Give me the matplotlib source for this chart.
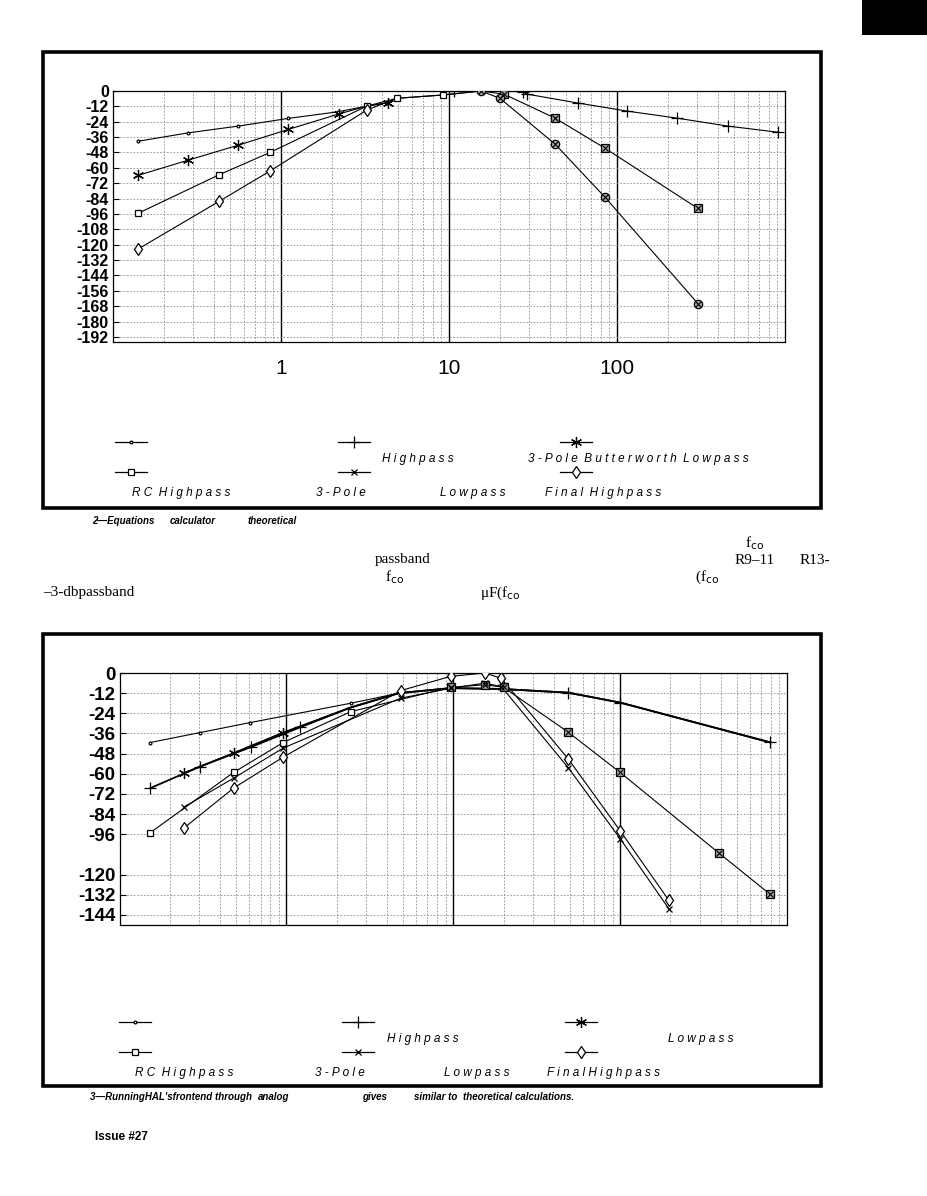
import matplotlib
matplotlib.use("Agg")
import matplotlib.pyplot as plt
from matplotlib.lines import Line2D
from matplotlib.patches import Rectangle
from matplotlib.ticker import LogLocator, NullFormatter, FixedLocator, FixedFormatter

W, H = 927, 1196

# ===== Figure 2 (theoretical) =====
t_f_dot = [0.1416, 0.28, 0.557, 1.105, 2.19, 3.24, 4.26]
t_db_dot = [-39.2, -32.7, -27.4, -21.4, -16.2, -11.8, -9.2]
t_f_star = [0.1416, 0.28, 0.557, 1.105, 2.2, 3.24, 4.36]
t_db_star = [-65.8, -54, -42.3, -30, -18, -11.8, -9.2]
t_f_sq = [0.1416, 0.43, 0.86, 3.24, 4.89, 9.25, 15.5, 21.2, 42.8, 84.9, 303]
t_db_sq = [-95.4, -65.3, -48, -11.8, -5.7, -3.1, 0, -2.4, -21.2, -44.7, -91.7]
t_f_dia = [0.1416, 0.43, 0.86, 3.24, 4.89, 9.25, 15.5, 20.1, 42.8, 84.9, 303]
t_db_dia = [-123.3, -86, -62.5, -14.9, -5.7, -3.1, 0, -5.7, -41.5, -83, -166]
t_f_plus = [10.7, 27.5, 29, 58.6, 115, 228, 457, 908]
t_db_plus = [0, -0.5, -2.4, -9.4, -15.7, -21.2, -27.4, -32.2]

# ===== Figure 3 (measured) =====
b_f_dot = [0.152, 0.302, 0.607, 2.43, 4.72]
b_db_dot = [-41.4, -35.5, -29.5, -18, -12]
b_f_plus = [0.153, 0.303, 0.612, 1.21, 2.43, 4.72, 9.64, 19.4, 48.8, 100, 787]
b_db_plus = [-68.5, -55.7, -44.1, -32.3, -20.5, -12, -9, -9.5, -11.7, -17.6, -41.2]
b_f_star = [0.243, 0.482, 0.955, 2.43, 4.72, 9.64, 19.4, 48.8, 100, 787]
b_db_star = [-59.6, -47.7, -35.5, -20.5, -12, -9, -9.5, -11.7, -17.6, -41.2]
b_f_sq = [0.153, 0.482, 0.955, 2.43, 9.64, 15.5, 20, 48.8, 100, 390, 787]
b_db_sq = [-95, -59.2, -41.4, -23, -8.5, -7, -8.5, -35.2, -59.2, -107.1, -131.5]
b_f_x = [0.243, 0.482, 0.955, 4.83, 9.64, 15.5, 19.4, 48.8, 100, 196]
b_db_x = [-79.8, -62.6, -44.7, -15, -9.1, -6, -8.1, -56.3, -98.6, -140.4]
b_f_dia = [0.243, 0.482, 0.955, 4.83, 9.64, 15.5, 19.4, 48.8, 100, 196]
b_db_dia = [-92.3, -68.5, -50.1, -10.5, -2, 0, -3.2, -51.1, -93.9, -135.4]

top_yticks = list(range(0, -193, -12))
bot_yticks = [0, -12, -24, -36, -48, -60, -72, -84, -96, -120, -132, -144]
decades = [1, 10, 100]
dec_labels = ["1", "10", "100"]

ASTER = (6, 2, 0)
LBL_FONT = ["Liberation Sans", "DejaVu Sans"]
SERIF = ["Liberation Serif", "DejaVu Serif"]


def fx(x):
    return x / W


def fy(y):
    return 1 - y / H


fig = plt.figure(figsize=(W / 100, H / 100), dpi=100)


def series(ax, f, db, marker=None, every=None, ms=5, over=None, over_m="s", lw=0.8):
    ax.plot(f, db, color="k", lw=lw, zorder=3)
    if marker:
        idx = every if every is not None else range(len(f))
        ax.plot([f[i] for i in idx], [db[i] for i in idx], ls="none", marker=marker,
                ms=ms, mfc="white", mec="k", mew=0.9, zorder=4)
    if over:
        ax.plot([f[i] for i in over], [db[i] for i in over], ls="none", marker=over_m,
                ms=6, mfc="0.65", mec="k", mew=0.9, zorder=4)
        ax.plot([f[i] for i in over], [db[i] for i in over], ls="none", marker="x",
                ms=4, mec="k", mew=0.8, zorder=5)


def setup(ax, ylo, yticks, xlabels, ysize):
    ax.set_xscale("log")
    ax.set_xlim(0.1, 1000)
    ax.set_ylim(ylo, 0)
    ax.xaxis.set_major_locator(FixedLocator(decades))
    if xlabels:
        ax.xaxis.set_major_formatter(FixedFormatter(dec_labels))
    else:
        ax.xaxis.set_major_formatter(NullFormatter())
    ax.xaxis.set_minor_locator(LogLocator(base=10, subs=range(2, 10), numticks=20))
    ax.xaxis.set_minor_formatter(NullFormatter())
    ax.set_yticks(yticks)
    ax.set_yticklabels([str(v) for v in yticks])
    ax.tick_params(axis="x", which="both", length=0, pad=12, labelsize=15)
    ax.tick_params(axis="y", length=4, direction="in", pad=3, labelsize=ysize)
    for lab in ax.get_xticklabels():
        lab.set_family(LBL_FONT)
    for lab in ax.get_yticklabels():
        lab.set_family(LBL_FONT)
        lab.set_fontweight("bold")
    ax.grid(which="minor", axis="x", color="0.55", ls=(0, (2, 2)), lw=0.6)
    ax.grid(which="major", axis="y", color="0.55", ls=(0, (2, 2)), lw=0.6)
    ax.grid(which="major", axis="x", color="k", ls="-", lw=1.0)
    for s in ax.spines.values():
        s.set_linewidth(0.9)


# ----- top chart -----
ax1 = fig.add_axes([fx(113), fy(342), fx(785 - 113), (342 - 91) / H])
setup(ax1, -196, top_yticks, True, 11.5)
series(ax1, t_f_dot, t_db_dot, ".", ms=4)
series(ax1, t_f_star, t_db_star, ASTER, every=[0, 1, 2, 3, 4, 6], ms=8)
series(ax1, t_f_sq, t_db_sq, "s", every=[0, 1, 2, 3, 4, 5], over=[7, 8, 9, 10])
series(ax1, t_f_dia, t_db_dia, "d", every=[0, 1, 2, 3], ms=6, over=[6, 7, 8, 9, 10],
       over_m="o")
series(ax1, t_f_plus, t_db_plus, "+", ms=8)

# ----- bottom chart -----
ax2 = fig.add_axes([fx(119.6), fy(925), fx(787 - 119.6), (925 - 673) / H])
setup(ax2, -150, bot_yticks, False, 13.5)
series(ax2, b_f_dot, b_db_dot, ".", every=[0, 1, 2, 3], ms=4)
series(ax2, b_f_plus, b_db_plus, "+", every=[0, 1, 2, 3, 8, 9, 10], ms=8, lw=1.3)
series(ax2, b_f_star, b_db_star, ASTER, every=[0, 1, 2], ms=8, lw=1.3)
series(ax2, b_f_sq, b_db_sq, "s", every=[0, 1, 2, 3], over=[4, 5, 6, 7, 8, 9, 10])
series(ax2, b_f_x, b_db_x, "x", ms=5)
series(ax2, b_f_dia, b_db_dia, "d", ms=6)

# ----- frames -----
for (x0, y0, x1, y1) in [(43, 52, 821, 508), (43, 634, 821, 1086)]:
    fig.add_artist(Rectangle((fx(x0), fy(y1)), fx(x1 - x0), (y1 - y0) / H,
                             transform=fig.transFigure, fill=False, lw=2.6, ec="k"))
fig.add_artist(Rectangle((fx(862), fy(35)), fx(65), 35 / H, transform=fig.transFigure,
                         fc="k", ec="none"))


# ----- legend samples -----
def handle(x0, y, marker, ms=6):
    fig.add_artist(Line2D([fx(x0), fx(x0 + 32)], [fy(y), fy(y)], transform=fig.transFigure,
                          color="k", lw=0.9))
    fig.add_artist(Line2D([fx(x0 + 16)], [fy(y)], transform=fig.transFigure, ls="none",
                          marker=marker, ms=ms, mfc="white", mec="k", mew=0.9))


def ltext(x, y, s):
    fig.text(fx(x), fy(y), s, fontsize=8.5, style="italic", family=LBL_FONT,
             ha="left", va="center")


for (x0, y) in [(115, 442), (119, 1022)]:
    handle(x0, y, ".", 4)
for (x0, y) in [(338, 442), (342, 1022)]:
    handle(x0, y, "+", 8)
for (x0, y) in [(560, 442), (565, 1022)]:
    handle(x0, y, ASTER, 8)
for (x0, y) in [(115, 472), (119, 1052)]:
    handle(x0, y, "s", 5)
for (x0, y) in [(338, 472), (342, 1052)]:
    handle(x0, y, "x", 5)
for (x0, y) in [(560, 472), (565, 1052)]:
    handle(x0, y, "d", 6)

ltext(382, 459, "H i g h p a s s")
ltext(528, 459, "3 - P o l e  B u t t e r w o r t h  L o w p a s s")
ltext(132, 493, "R C  H i g h p a s s")
ltext(316, 493, "3 - P o l e")
ltext(440, 493, "L o w p a s s")
ltext(545, 493, "F i n a l  H i g h p a s s")

ltext(387, 1039, "H i g h p a s s")
ltext(668, 1039, "L o w p a s s")
ltext(135, 1073, "R C  H i g h p a s s")
ltext(315, 1073, "3 - P o l e")
ltext(444, 1073, "L o w p a s s")
ltext(547, 1073, "F i n a l H i g h p a s s")


# ----- captions and body fragments -----
def cap(x, y, s, size=7):
    fig.text(fx(x), fy(y), s, fontsize=size, style="italic", weight="bold",
             family=LBL_FONT, ha="left", va="center")


cap(92, 521, "2\u2014Equations")
cap(170, 521, "calculator")
cap(248, 521, "theoretical")
cap(90, 1097, "3\u2014RunningHAL'sfrontend through")
cap(258, 1097, "analog")
cap(362, 1097, "gives")
cap(414, 1097, "similar to")
cap(463, 1097, "theoretical calculations.")
fig.text(fx(95), fy(1137), "Issue #27", fontsize=8.5, weight="bold", family=LBL_FONT,
         ha="left", va="center")


def body(x, y, s):
    fig.text(fx(x), fy(y), s, fontsize=11, family=SERIF, ha="left", va="center")


body(745, 543, r"f$_{\rm co}$")
body(375, 560, "passband")
body(735, 560, "R9\u201311")
body(800, 560, "R13-")
body(385, 577, r"f$_{\rm co}$")
body(695, 577, r"(f$_{\rm co}$")
body(43, 593, "\u20133-dbpassband")
body(480, 593, "\u03bcF(f$_{\\rm co}$")

fig.savefig("out.png", dpi=100, facecolor="white")
